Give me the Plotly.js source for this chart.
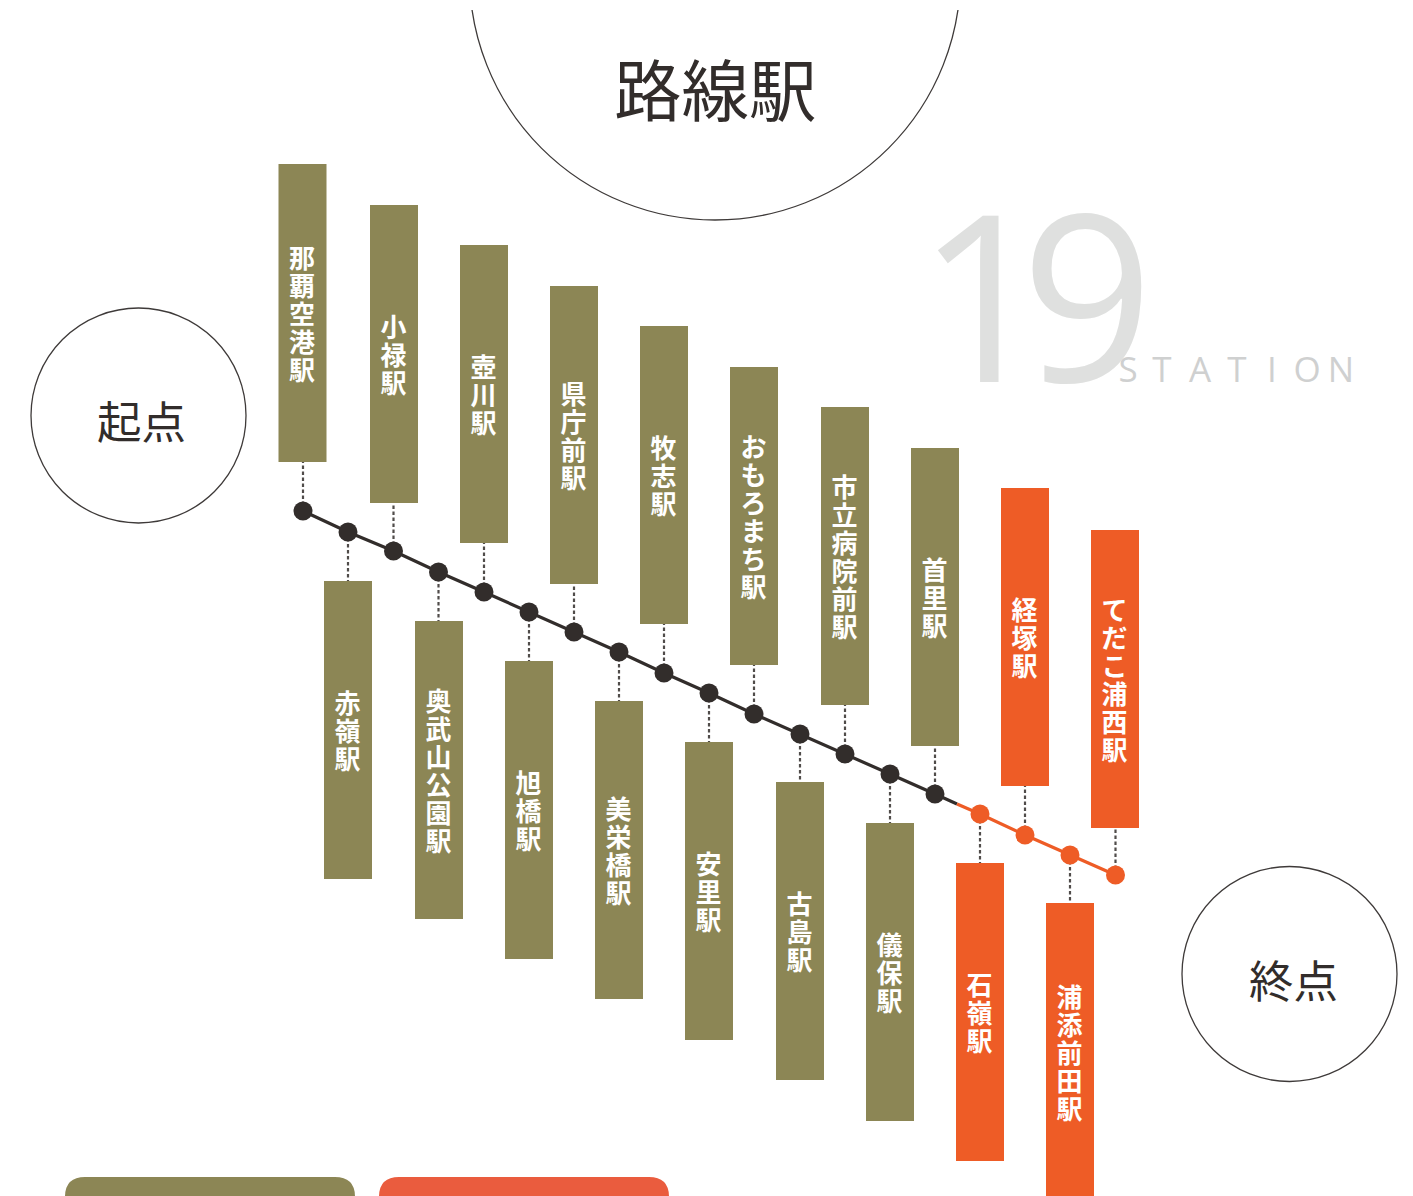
<!DOCTYPE html>
<html>
<head>
<meta charset="utf-8">
<script src="https://cdn.plot.ly/plotly-3.0.1.min.js"></script>
<style>html,body{margin:0;padding:0;background:#fff;overflow:hidden}#chart{width:1413px;height:1196px}</style>
</head>
<body>
<div id="chart"></div>
<script>
const stationNames = ["那覇空港駅","赤嶺駅","小禄駅","奥武山公園駅","壺川駅","旭橋駅","県庁前駅","美栄橋駅","牧志駅","安里駅","おもろまち駅","古島駅","市立病院前駅","儀保駅","首里駅","石嶺駅","経塚駅","浦添前田駅","てだこ浦西駅"];
const stationX = [303,348,393.5,438.5,484,529,574,619,664,709,754,800,845,890,935,980,1025,1070,1115.5];
const stationY = [511,532,551,572,592,612,632,652,673,693,714,734,754,774,794,814,835,855,875];
const barX = [302.5,348,394,439,484,529,574,619,664,709,754,800,845,890,935,980,1025,1070,1115];
const barTop = [164,581,205,621,245,661,286,701,326,742,367,782,407,823,448,863,488,903,530];
const barLength = [298,298,298,298,298,298,298,298,298,298,298,298,298,298,298,298,298,298,298];
const colorChangeX = 957;
const colorChangeY = 804;
const firstOrange = 15;
const olive = "#8c8655", orange = "#ee5c26", dark = "#322d2b";

const idx = stationNames.map((_, i) => i);
const oliveIdx = idx.filter(i => i < firstOrange);
const orangeIdx = idx.filter(i => i >= firstOrange);
const pick = (arr, ids) => ids.map(i => arr[i]);

function barTrace(ids, color) {
  return {type: "bar", x: pick(barX, ids), base: pick(barTop, ids), y: pick(barLength, ids),
    width: 48, marker: {color: color, line: {width: 0}}, hoverinfo: "text",
    hovertext: pick(stationNames, ids), name: color === olive ? "路線駅" : "終点側"};
}

const dashX = [], dashY = [];
idx.forEach(i => {
  const end = barTop[i] < stationY[i] ? barTop[i] + barLength[i] : barTop[i];
  dashX.push(stationX[i], stationX[i], null);
  dashY.push(stationY[i], end, null);
});

const charX = [], charY = [], charT = [];
const pitch = 28;
idx.forEach(i => {
  const chars = Array.from(stationNames[i]);
  const mid = barTop[i] + barLength[i] / 2 + 4;
  chars.forEach((c, k) => {
    charX.push(barX[i] - 0.4);
    charY.push(mid + (k - (chars.length - 1) / 2) * pitch);
    charT.push(c);
  });
});

const stationLetters = ["S","T","A","T","I","O","N"];
const lettersX = [1128,1162,1200,1237,1272,1307,1341];

const data = [
  barTrace(oliveIdx, olive),
  barTrace(orangeIdx, orange),
  {type: "scatter", mode: "lines", x: dashX, y: dashY, line: {color: "#504c4a", width: 2.2, dash: "3.5px,2.5px"}, hoverinfo: "skip"},
  {type: "scatter", mode: "lines", x: pick(stationX, oliveIdx).concat([colorChangeX]), y: pick(stationY, oliveIdx).concat([colorChangeY]), line: {color: dark, width: 3.2}, hoverinfo: "skip"},
  {type: "scatter", mode: "lines", x: [colorChangeX].concat(pick(stationX, orangeIdx)), y: [colorChangeY].concat(pick(stationY, orangeIdx)), line: {color: orange, width: 3.2}, hoverinfo: "skip"},
  {type: "scatter", mode: "markers", x: pick(stationX, oliveIdx), y: pick(stationY, oliveIdx), marker: {color: dark, size: 19}, hoverinfo: "skip"},
  {type: "scatter", mode: "markers", x: pick(stationX, orangeIdx), y: pick(stationY, orangeIdx), marker: {color: orange, size: 19}, hoverinfo: "skip"},
  {type: "scatter", mode: "text", x: charX, y: charY, text: charT, textposition: "middle center", cliponaxis: true,
   textfont: {family: "Noto Sans CJK JP", size: 26, color: "#ffffff", weight: 700}, hoverinfo: "skip"},
  {type: "scatter", mode: "text", x: lettersX, y: lettersX.map(() => 373), text: stationLetters, textposition: "middle center",
   textfont: {family: "Open Sans", size: 35, color: "#cfd0d0", weight: 400}, hoverinfo: "skip"}
];

function circle(cx, cy, r) {
  return {type: "circle", xref: "x", yref: "y", x0: cx - r, x1: cx + r, y0: cy - r, y1: cy + r, layer: "below",
    line: {color: "#3e3a39", width: 1.3}, fillcolor: "rgba(0,0,0,0)"};
}
function tab(x0, x1, top, color) {
  const r = 20, b = 1230;
  return {type: "path", xref: "x", yref: "y", layer: "below", fillcolor: color, line: {width: 0},
    path: `M${x0},${b} L${x0},${top + r} Q${x0},${top} ${x0 + r},${top} L${x1 - r},${top} Q${x1},${top} ${x1},${top + r} L${x1},${b} Z`};
}

function label(text, x, y, size, color, family, weight) {
  return {text: text, x: x, y: y, xref: "x", yref: "y", showarrow: false, xanchor: "center", yanchor: "middle",
    font: {family: family || "Noto Sans CJK JP", size: size, color: color || "#322d2b", weight: weight || 400}};
}

const layout = {
  width: 1413, height: 1196,
  margin: {l: 0, r: 0, t: 10, b: 0, pad: 0},
  paper_bgcolor: "#ffffff", plot_bgcolor: "#ffffff",
  showlegend: false, barmode: "overlay", hovermode: "closest",
  xaxis: {range: [0, 1413], visible: false, fixedrange: true},
  yaxis: {range: [1196, 10], visible: false, fixedrange: true},
  shapes: [circle(715, -25.5, 245.5), circle(138.5, 415.5, 107.5), circle(1289.5, 974, 107.5),
           tab(65, 355, 1177, "#8c8655"), tab(379, 669, 1177, "#ea5c3e")],
  annotations: [
    label("路線駅", 715.5, 86.5, 67.5),
    label("起点", 141, 419.5, 44.5),
    label("終点", 1293, 978.5, 44.5),
    label("1", 983, 292, 232, "#dfe0df", "Open Sans", 400),
    label("9", 1087, 292, 232, "#dfe0df", "Open Sans", 400)
  ]
};

Plotly.newPlot("chart", data, layout, {displayModeBar: false, responsive: false});
</script>
</body>
</html>
